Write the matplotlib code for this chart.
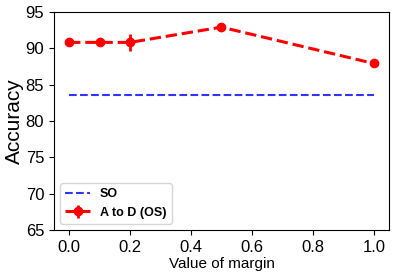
import matplotlib
matplotlib.use("Agg")
import matplotlib.pyplot as plt

plt.rcParams['font.family'] = ['Liberation Sans', 'DejaVu Sans']

margins = [0.0, 0.1, 0.2, 0.5, 1.0]
acc_os = [90.8, 90.8, 90.8, 92.9, 87.9]
acc_err = [0.0, 0.0, 1.2, 0.0, 0.0]
so_x = [0.0, 1.0]
so_val = [83.5, 83.5]
yticks = [65, 70, 75, 80, 85, 90, 95]
xticks = [0.0, 0.2, 0.4, 0.6, 0.8, 1.0]

fig = plt.figure(figsize=(3.99, 2.76), dpi=100)
ax = fig.add_axes([0.135, 0.167, 0.84, 0.79])
ax.plot(so_x, so_val, '--', color='blue', alpha=0.8, lw=1.5, label='SO')
ax.errorbar(margins, acc_os, yerr=acc_err, fmt='o--', color='red', lw=2.2,
            markersize=6, elinewidth=2, capsize=0, label='A to D (OS)')
ax.set_ylim(65, 95)
ax.set_xlim(-0.05, 1.05)
ax.set_yticks(yticks)
ax.set_xticks(xticks)
ax.tick_params(labelsize=12)
ax.set_xlabel('Value of margin', fontsize=11, labelpad=2)
ax.set_ylabel('Accuracy', fontsize=15, labelpad=1)
ax.legend(loc='lower left', prop={'weight': 'bold', 'size': 9})
fig.savefig('out.png', dpi=100)
